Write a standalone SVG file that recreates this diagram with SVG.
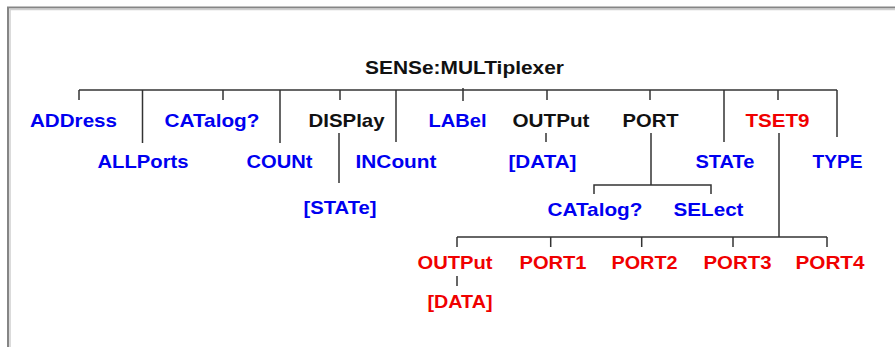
<svg xmlns="http://www.w3.org/2000/svg" width="895" height="347" viewBox="0 0 895 347">
<style>
text{font-family:"Liberation Sans",Arial,sans-serif;font-weight:bold;font-size:19px}
.b{fill:#0000f0}.r{fill:#f00000}.k{fill:#111}
.c line,.c path{stroke:#333;stroke-width:1.5;fill:none}
</style>
<rect width="895" height="347" fill="#fff"/>
<path d="M8 347V7.5H895" fill="none" stroke="#858585" stroke-width="2"/>
<path d="M10 347V9.5H895" fill="none" stroke="#cfcfcf" stroke-width="1.5"/>
<g class="c" id="connectors">
<line x1="79" y1="90" x2="837" y2="90"/>
<line x1="79" y1="90" x2="79" y2="100"/>
<line x1="142.5" y1="90" x2="142.5" y2="143"/>
<line x1="223" y1="90" x2="223" y2="100"/>
<line x1="280" y1="90" x2="280" y2="143"/>
<line x1="340" y1="90" x2="340" y2="100"/>
<line x1="396" y1="90" x2="396" y2="142"/>
<line x1="463" y1="88" x2="463" y2="101"/>
<line x1="547" y1="90" x2="547" y2="100"/>
<line x1="650" y1="90" x2="650" y2="100"/>
<line x1="724" y1="90" x2="724" y2="142"/>
<line x1="778" y1="90" x2="778" y2="100"/>
<line x1="837" y1="90" x2="837" y2="137"/>
<line x1="339" y1="133" x2="339" y2="183"/>
<line x1="546" y1="133" x2="546" y2="142"/>
<line x1="651" y1="133" x2="651" y2="185"/>
<path d="M594 194V185H711V194"/>
<line x1="779" y1="133" x2="779" y2="237"/>
<line x1="457" y1="237" x2="827" y2="237"/>
<line x1="457" y1="237" x2="457" y2="247"/>
<line x1="550.7" y1="237" x2="550.7" y2="247"/>
<line x1="641.7" y1="237" x2="641.7" y2="247"/>
<line x1="733" y1="237" x2="733" y2="247"/>
<line x1="827" y1="237" x2="827" y2="247"/>
<line x1="457" y1="276" x2="457" y2="286"/>
</g>
<g id="n-root"><text class="k" x="365" y="74" textLength="199" lengthAdjust="spacingAndGlyphs">SENSe:MULTiplexer</text></g>
<g id="n-address"><text class="b" x="30" y="127" textLength="87" lengthAdjust="spacingAndGlyphs">ADDress</text></g>
<g id="n-catalog"><text class="b" x="164.5" y="127" textLength="95" lengthAdjust="spacingAndGlyphs">CATalog?</text></g>
<g id="n-display"><text class="k" x="308.5" y="127" textLength="76" lengthAdjust="spacingAndGlyphs">DISPlay</text></g>
<g id="n-label"><text class="b" x="428.5" y="127" textLength="58" lengthAdjust="spacingAndGlyphs">LABel</text></g>
<g id="n-output"><text class="k" x="512.5" y="127" textLength="77" lengthAdjust="spacingAndGlyphs">OUTPut</text></g>
<g id="n-port"><text class="k" x="622.5" y="127" textLength="56" lengthAdjust="spacingAndGlyphs">PORT</text></g>
<g id="n-tset9"><text class="r" x="745.5" y="127" textLength="64" lengthAdjust="spacingAndGlyphs">TSET9</text></g>
<g id="n-allports"><text class="b" x="97.5" y="167.5" textLength="91" lengthAdjust="spacingAndGlyphs">ALLPorts</text></g>
<g id="n-count"><text class="b" x="246.5" y="167.5" textLength="66" lengthAdjust="spacingAndGlyphs">COUNt</text></g>
<g id="n-incount"><text class="b" x="355.5" y="167.5" textLength="81" lengthAdjust="spacingAndGlyphs">INCount</text></g>
<g id="n-output-data"><text class="b" x="508.5" y="167.5" textLength="68" lengthAdjust="spacingAndGlyphs">[DATA]</text></g>
<g id="n-state"><text class="b" x="695.5" y="167.5" textLength="59" lengthAdjust="spacingAndGlyphs">STATe</text></g>
<g id="n-type"><text class="b" x="812.5" y="167.5" textLength="50" lengthAdjust="spacingAndGlyphs">TYPE</text></g>
<g id="n-display-state"><text class="b" x="303.5" y="214" textLength="73" lengthAdjust="spacingAndGlyphs">[STATe]</text></g>
<g id="n-port-catalog"><text class="b" x="547.5" y="215.5" textLength="95" lengthAdjust="spacingAndGlyphs">CATalog?</text></g>
<g id="n-port-select"><text class="b" x="673.5" y="215.5" textLength="70" lengthAdjust="spacingAndGlyphs">SELect</text></g>
<g id="n-tset-output"><text class="r" x="417.5" y="269" textLength="75" lengthAdjust="spacingAndGlyphs">OUTPut</text></g>
<g id="n-port1"><text class="r" x="519.5" y="269" textLength="67" lengthAdjust="spacingAndGlyphs">PORT1</text></g>
<g id="n-port2"><text class="r" x="611.5" y="269" textLength="66" lengthAdjust="spacingAndGlyphs">PORT2</text></g>
<g id="n-port3"><text class="r" x="703.5" y="269" textLength="68" lengthAdjust="spacingAndGlyphs">PORT3</text></g>
<g id="n-port4"><text class="r" x="795.5" y="269" textLength="69" lengthAdjust="spacingAndGlyphs">PORT4</text></g>
<g id="n-tset-output-data"><text class="r" x="427.5" y="308" textLength="65" lengthAdjust="spacingAndGlyphs">[DATA]</text></g>
</svg>
